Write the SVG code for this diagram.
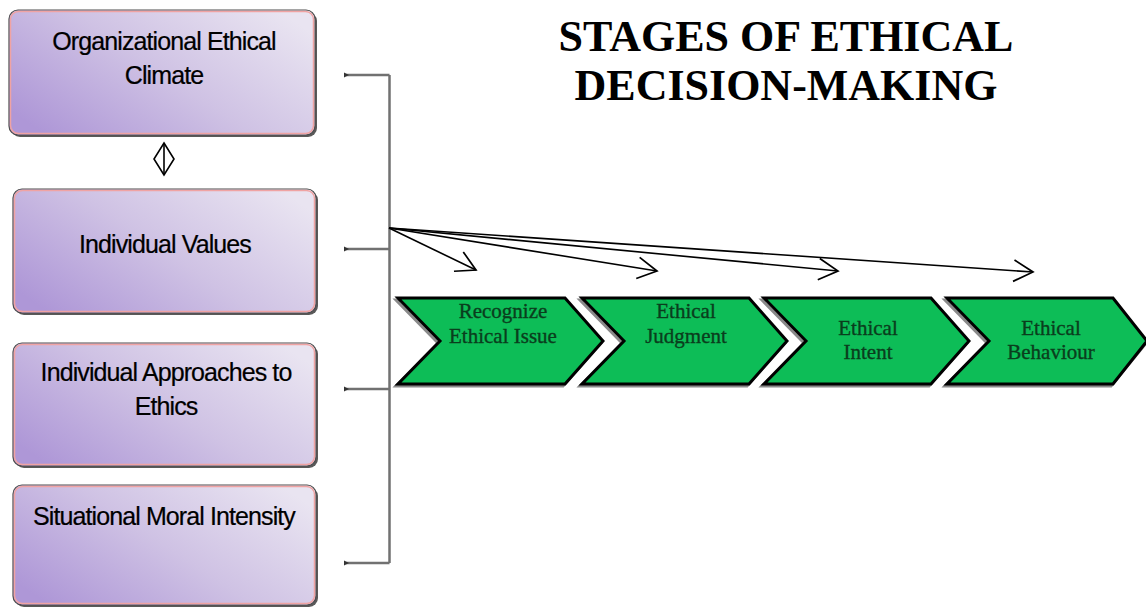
<svg xmlns="http://www.w3.org/2000/svg" width="1146" height="607" viewBox="0 0 1146 607">
  <defs>
    <linearGradient id="boxGrad" x1="0" y1="0.8" x2="1" y2="0.2">
      <stop offset="0" stop-color="#ae97d7"/>
      <stop offset="0.5" stop-color="#cfc2e4"/>
      <stop offset="1" stop-color="#e9e4f1"/>
    </linearGradient>
    <marker id="openV" markerUnits="userSpaceOnUse" markerWidth="30" markerHeight="30" viewBox="-22 -14 26 28" refX="0" refY="0" orient="auto">
      <path d="M-18,-10 L0,0 L-18,10" fill="none" stroke="#000" stroke-width="1.6"/>
    </marker>
    <marker id="dot" markerUnits="userSpaceOnUse" markerWidth="8" markerHeight="8" viewBox="-4 -4 8 8" refX="0" refY="0" orient="auto">
      <path d="M-3,0 L2,-2.5 L2,2.5 Z" fill="#333"/>
    </marker>
    <style>
      .shadow { fill: #5a5a5a; }
      .box { fill: url(#boxGrad); stroke: #4d4d4d; stroke-width: 1.2; }
      .inner { fill: none; stroke: #f0a3a3; stroke-width: 1.5; }
      .lbl { font-family: "Liberation Sans", Arial, sans-serif; font-size: 25px; letter-spacing: -0.9px; fill: #000; stroke: #000; stroke-width: 0.2; text-anchor: middle; }
      .chev { fill: #0dbd57; stroke: #000; stroke-width: 3; stroke-linejoin: miter; }
      .chevsh { fill: none; stroke: #8a8a8a; stroke-width: 3; }
      .ctext { font-family: "Liberation Serif", "Times New Roman", serif; font-size: 21px; fill: #0a3d1d; stroke: #0a3d1d; stroke-width: 0.35; text-anchor: middle; }
      .title { font-family: "Liberation Serif", "Times New Roman", serif; font-size: 44px; font-weight: bold; fill: #000; text-anchor: middle; }
      .bracket { fill: none; stroke: #717171; stroke-width: 2.5; }
      .fan { fill: none; stroke: #000; stroke-width: 1.6; marker-end: url(#openV); }
    </style>
  </defs>
  <rect width="1146" height="607" fill="#fff"/>

  <g id="title">
    <text class="title" x="786" y="51">STAGES OF ETHICAL</text>
    <text class="title" x="786" y="100">DECISION-MAKING</text>
  </g>

  <g id="node-climate">
    <rect class="shadow" x="11" y="12" width="306" height="125" rx="9"/>
    <rect class="box" x="9" y="10" width="306" height="125" rx="9"/>
    <rect class="inner" x="10.5" y="11.5" width="303" height="122" rx="8"/>
    <text class="lbl" x="164" y="50">Organizational Ethical</text>
    <text class="lbl" x="164" y="84">Climate</text>
  </g>

  <g id="node-values">
    <rect class="shadow" x="15" y="191" width="303" height="124" rx="9"/>
    <rect class="box" x="13" y="189" width="303" height="124" rx="9"/>
    <rect class="inner" x="14.5" y="190.5" width="300" height="121" rx="8"/>
    <text class="lbl" x="165" y="253">Individual Values</text>
  </g>

  <g id="node-approaches">
    <rect class="shadow" x="15" y="345" width="303" height="123" rx="9"/>
    <rect class="box" x="13" y="343" width="303" height="123" rx="9"/>
    <rect class="inner" x="14.5" y="344.5" width="300" height="120" rx="8"/>
    <text class="lbl" x="166" y="381">Individual Approaches to</text>
    <text class="lbl" x="166" y="415">Ethics</text>
  </g>

  <g id="node-intensity">
    <rect class="shadow" x="15" y="487" width="303" height="120" rx="9"/>
    <rect class="box" x="13" y="485" width="303" height="120" rx="9"/>
    <rect class="inner" x="14.5" y="486.5" width="300" height="117" rx="8"/>
    <text class="lbl" x="164" y="525">Situational Moral Intensity</text>
  </g>

  <g id="node-recognize">
    <polygon class="chevsh" points="396,300 563,300 601,343 563,386 396,386 438,343"/>
    <polygon class="chev" points="398,298 565,298 603,341 565,384 398,384 440,341"/>
    <text class="ctext" x="503" y="318">Recognize</text>
    <text class="ctext" x="503" y="343">Ethical Issue</text>
  </g>

  <g id="node-judgment">
    <polygon class="chevsh" points="580,300 747,300 785,343 747,386 580,386 622,343"/>
    <polygon class="chev" points="582,298 749,298 787,341 749,384 582,384 624,341"/>
    <text class="ctext" x="686" y="318">Ethical</text>
    <text class="ctext" x="686" y="343">Judgment</text>
  </g>

  <g id="node-intent">
    <polygon class="chevsh" points="762,300 929,300 967,343 929,386 762,386 804,343"/>
    <polygon class="chev" points="764,298 931,298 969,341 931,384 764,384 806,341"/>
    <text class="ctext" x="868" y="335">Ethical</text>
    <text class="ctext" x="868" y="359">Intent</text>
  </g>

  <g id="node-behaviour">
    <polygon class="chevsh" points="945,300 1111,300 1146,343 1111,386 945,386 987,343"/>
    <polygon class="chev" points="947,298 1113,298 1147,341 1113,384 947,384 989,341"/>
    <text class="ctext" x="1051" y="335">Ethical</text>
    <text class="ctext" x="1051" y="359">Behaviour</text>
  </g>

  <g id="connectors">
    <g id="link-diamond">
      <polygon points="164,143 174,159 164,175 154,159" fill="none" stroke="#000" stroke-width="1.6"/>
      <line x1="164" y1="143" x2="164" y2="175" stroke="#000" stroke-width="1.6"/>
    </g>
    <path class="bracket" d="M389.5,75 V563"/>
    <line class="bracket" x1="389.5" y1="75" x2="346" y2="75" marker-end="url(#dot)"/>
    <line class="bracket" x1="389.5" y1="249" x2="346" y2="249" marker-end="url(#dot)"/>
    <line class="bracket" x1="389.5" y1="389" x2="346" y2="389" marker-end="url(#dot)"/>
    <line class="bracket" x1="389.5" y1="563" x2="346" y2="563" marker-end="url(#dot)"/>
    <line class="fan" x1="389" y1="228" x2="476" y2="270"/>
    <line class="fan" x1="389" y1="228" x2="657" y2="271"/>
    <line class="fan" x1="389" y1="228" x2="838" y2="271"/>
    <line class="fan" x1="389" y1="228" x2="1033" y2="272"/>
  </g>
</svg>
